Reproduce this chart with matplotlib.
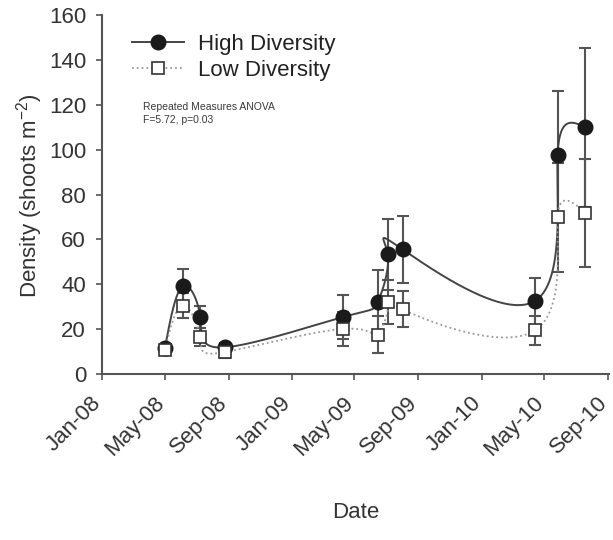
import numpy as np
import matplotlib
matplotlib.use("Agg")
import matplotlib.pyplot as plt
import matplotlib.dates as mdates
import matplotlib.transforms as mtransforms
import datetime as dt

# ---------------- data ----------------
dates = ["2008-05-01", "2008-06-04", "2008-07-08", "2008-08-25", "2009-04-09",
         "2009-06-15", "2009-07-04", "2009-08-02", "2010-04-13", "2010-05-27",
         "2010-07-19"]
high = [11.5, 39.0, 25.4, 11.9, 25.4, 32.1, 53.3, 55.5, 32.5, 97.5, 110.0]
high_err = [1.5, 8.0, 4.9, 2.0, 9.7, 14.3, 15.7, 15.1, 10.5, 28.5, 35.5]
low = [10.5, 30.5, 16.3, 9.8, 20.1, 17.6, 32.1, 28.8, 19.4, 69.8, 71.9]
low_err = [1.0, 5.5, 4.0, 2.5, 7.7, 8.2, 10.0, 8.0, 6.5, 24.3, 24.0]

tick_dates = ["2008-01-01", "2008-05-01", "2008-09-01", "2009-01-01", "2009-05-01",
              "2009-09-01", "2010-01-01", "2010-05-01", "2010-09-01"]
tick_labels = ["Jan-08", "May-08", "Sep-08", "Jan-09", "May-09",
               "Sep-09", "Jan-10", "May-10", "Sep-10"]
y_ticks = [0, 20, 40, 60, 80, 100, 120, 140, 160]

plt.rcParams['font.family'] = ['Liberation Sans', 'DejaVu Sans']
plt.rcParams['mathtext.fontset'] = 'custom'
plt.rcParams['mathtext.rm'] = 'Liberation Sans'
plt.rcParams['mathtext.it'] = 'Liberation Sans'

x = mdates.date2num([dt.datetime.strptime(d, "%Y-%m-%d") for d in dates])
xt = mdates.date2num([dt.datetime.strptime(d, "%Y-%m-%d") for d in tick_dates])


def nat_spline(t, y, tt):
    t = np.asarray(t, float); y = np.asarray(y, float)
    n = len(t); h = np.diff(t)
    A = np.zeros((n, n)); r = np.zeros(n)
    A[0, 0] = A[-1, -1] = 1.0
    for i in range(1, n - 1):
        A[i, i - 1] = h[i - 1]
        A[i, i] = 2 * (h[i - 1] + h[i])
        A[i, i + 1] = h[i]
        r[i] = 3 * ((y[i + 1] - y[i]) / h[i] - (y[i] - y[i - 1]) / h[i - 1])
    c = np.linalg.solve(A, r)
    b = (y[1:] - y[:-1]) / h - h * (2 * c[:-1] + c[1:]) / 3
    d = (c[1:] - c[:-1]) / (3 * h)
    idx = np.clip(np.searchsorted(t, tt, side='right') - 1, 0, n - 2)
    dx = tt - t[idx]
    return y[idx] + b[idx] * dx + c[idx] * dx ** 2 + d[idx] * dx ** 3


def smooth(xv, yv):
    # parametric spline curve through the points (rendering of the connecting line)
    xs = np.asarray(xv) * 0.52
    ys = np.asarray(yv) * 2.24
    t = np.arange(len(xs), dtype=float)
    tt = np.linspace(0, t[-1], 2000)
    return nat_spline(t, xs, tt) / 0.52, nat_spline(t, ys, tt) / 2.24


fig = plt.figure(figsize=(6.13, 5.40), dpi=100)
ax = fig.add_axes([0.1664, 0.3074, 0.9935 - 0.1664, 0.9722 - 0.3074])

grey = '#555555'
txtc = '#333333'
hx, hy = smooth(x, high)
lx, ly = smooth(x, low)
ax.plot(hx, hy, '-', color='#444444', lw=1.4, zorder=3)
ax.plot(lx, ly, ':', color='#999999', lw=1.3, zorder=3)

ax.errorbar(x, high, yerr=high_err, fmt='none', ecolor=grey, elinewidth=1.5,
            capsize=4.2, capthick=1.5, zorder=2)
ax.errorbar(x, low, yerr=low_err, fmt='none', ecolor=grey, elinewidth=1.5,
            capsize=4.2, capthick=1.5, zorder=2)

ax.plot(x, high, 'o', ms=10.5, mfc='#1a1a1a', mec='#1a1a1a', zorder=4, ls='none')
ax.plot(x, low, 's', ms=8.5, mfc='white', mec='#333333', mew=1.2, zorder=5, ls='none')

# legend handles
h1, = ax.plot([], [], '-o', color='#444444', lw=1.4, ms=10.5, mfc='#1a1a1a', mec='#1a1a1a')
h2, = ax.plot([], [], ':s', color='#999999', lw=1.3, ms=8.5, mfc='white', mec='#333333', mew=1.2)
leg = ax.legend([h1, h2], ['High Diversity', 'Low Diversity'], loc='upper left',
                bbox_to_anchor=(0.059, 0.948), frameon=False, fontsize=16,
                borderpad=0, borderaxespad=0,
                handlelength=2.36, handletextpad=0.6, labelspacing=0.25, labelcolor='#222222')

ax.text(0.081, 0.757, "Repeated Measures ANOVA\nF=5.72, p=0.03", transform=ax.transAxes,
        fontsize=7.5, color='#3a3a3a', va='top', ha='left', linespacing=1.4)

ax.set_xlim(xt[0], xt[-1] + 2)
ax.set_ylim(0, 160)
ax.set_xticks(xt)
ax.set_xticklabels(tick_labels, rotation=45, ha='right', va='center', rotation_mode='anchor')
ax.set_yticks(y_ticks)

for s in ['top', 'right']:
    ax.spines[s].set_visible(False)
for s in ['left', 'bottom']:
    ax.spines[s].set_color(grey)
    ax.spines[s].set_linewidth(1.5)
ax.tick_params(axis='both', colors=grey, width=1.2, length=4.5, labelsize=16,
               labelcolor=txtc)
ax.tick_params(axis='x', pad=14)
ax.tick_params(axis='y', pad=7)
off = mtransforms.ScaledTranslation(-4 / 100, 0, fig.dpi_scale_trans)
for lab in ax.get_xticklabels():
    lab.set_transform(lab.get_transform() + off)

fig.text(30 / 613, 1 - 196 / 540, "Density (shoots m$^{-2}$)", rotation=90,
         ha='center', va='center', fontsize=16, color=txtc)
fig.text(355.5 / 613, 1 - 512 / 540, "Date", ha='center', va='center',
         fontsize=16, color=txtc)

fig.savefig("out.png", dpi=100)
